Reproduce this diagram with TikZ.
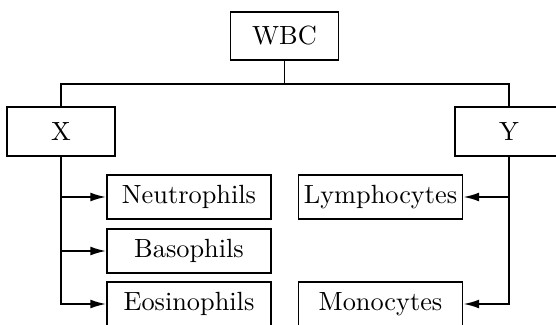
\documentclass[tikz,border=0pt]{standalone}
\usetikzlibrary{arrows.meta}
\begin{document}
\begin{tikzpicture}[x=0.38pt,y=-0.38pt,
  box/.style={draw,line width=0.7pt,inner sep=2pt,minimum height=18.4pt,minimum width=41pt},
  leaf/.style={draw,line width=0.7pt,inner sep=2pt,minimum height=16.7pt,minimum width=62.3pt},
  conn/.style={line width=0.7pt},
  arr/.style={conn,-{Latex[length=6pt,width=3.4pt]}}]
\useasboundingbox (0,0) rectangle (556,324);
\clip (0,0) rectangle (556,324);
\node[box] (wbc) at (284.5,36) {WBC};
\node[box] (x) at (61,131.5) {X};
\node[box] (y) at (509,131.5) {Y};
\node[leaf] (neut) at (189,197) {Neutrophils};
\node[leaf] (baso) at (189,251) {Basophils};
\node[leaf] (eos) at (189,304) {Eosinophils};
\node[leaf] (lymph) at (380.5,197) {Lymphocytes};
\node[leaf] (mono) at (380.5,304) {Monocytes};
\coordinate (bus) at (284.5,84);
\draw[conn] (wbc) -- (bus);
\draw[conn] (x) -- (x |- bus) -- (y |- bus) -- (y);
\draw[arr] (x) |- (eos);
\draw[arr] (x.south |- neut) -- (neut);
\draw[arr] (x.south |- baso) -- (baso);
\draw[arr] (y) |- (mono);
\draw[arr] (y.south |- lymph) -- (lymph);
\end{tikzpicture}
\end{document}
